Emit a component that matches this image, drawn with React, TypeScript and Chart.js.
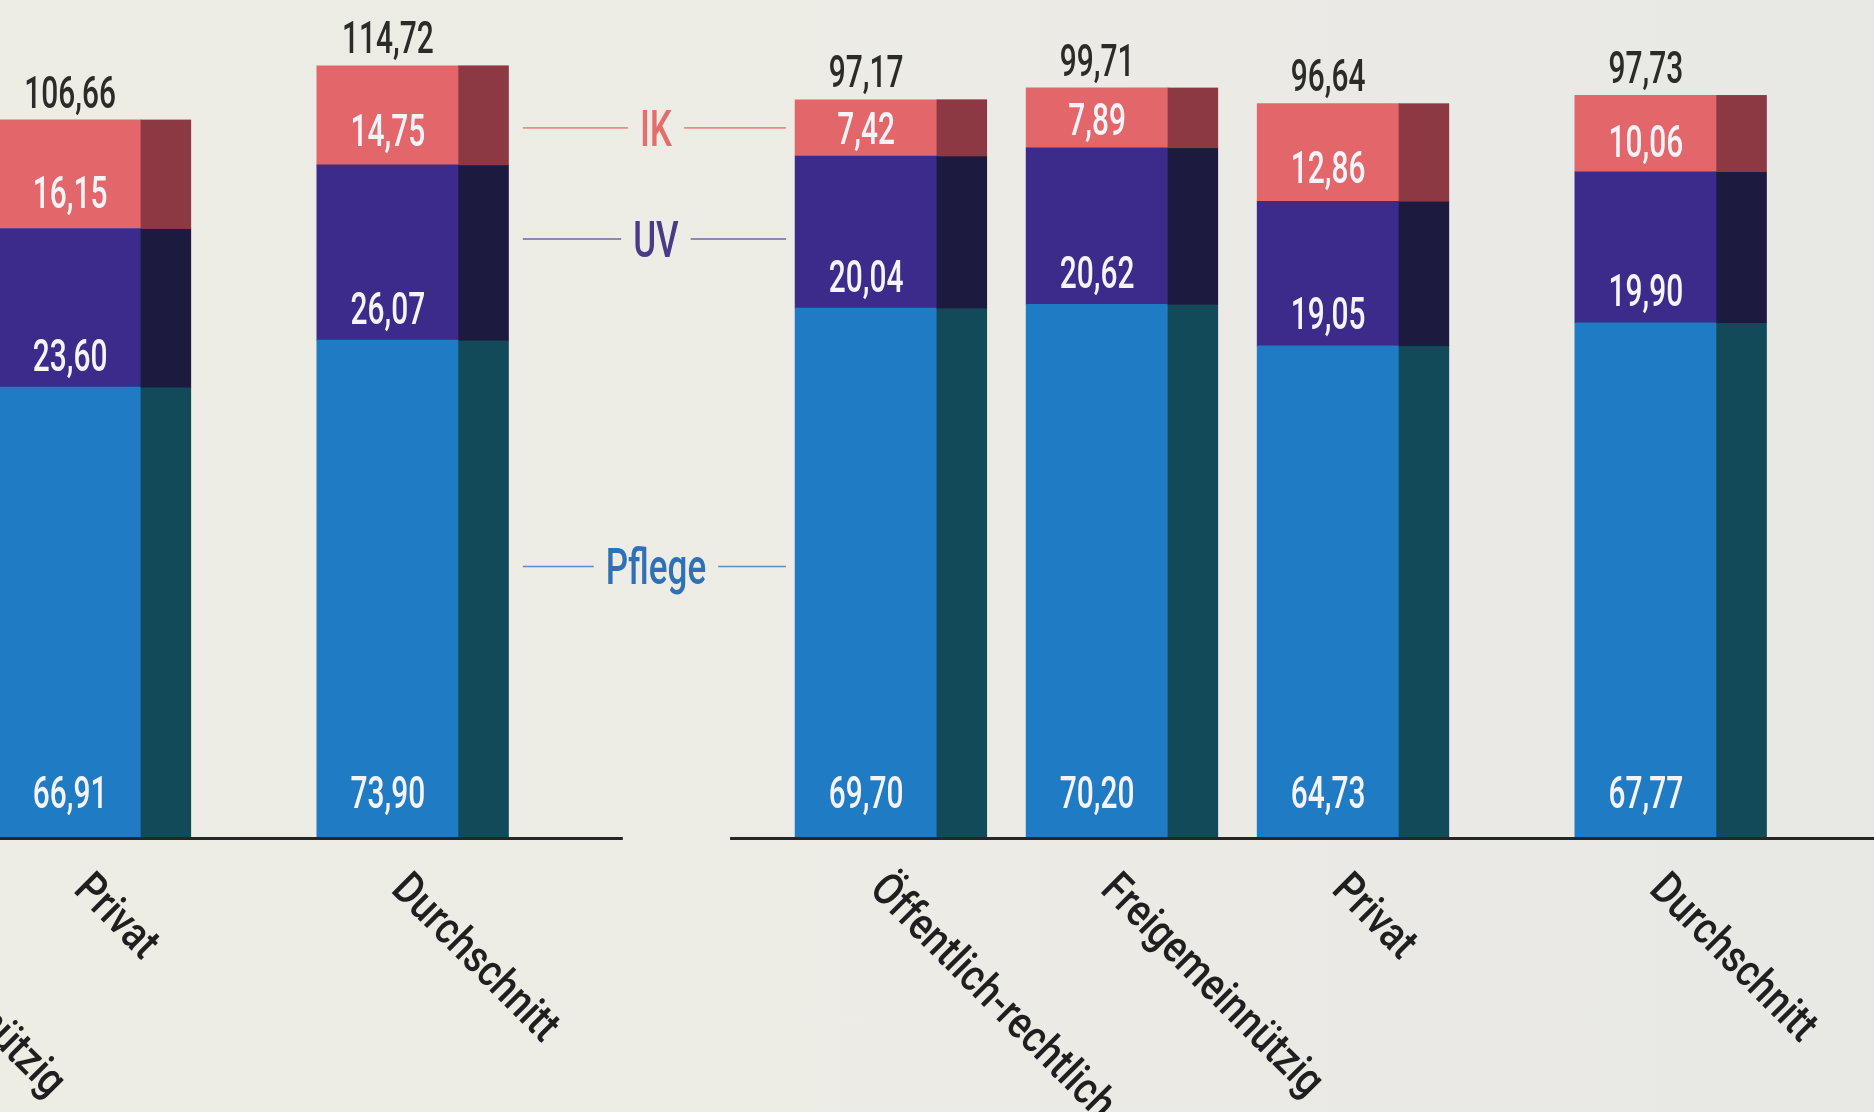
import React, { useEffect, useRef } from 'react';
import { Chart, registerables } from 'chart.js';

Chart.register(...registerables);

// ---------- data ----------
const categories = ['Öffentlich-rechtlich', 'Freigemeinnützig', 'Privat', 'Durchschnitt'];
const seriesNames = ['Pflege', 'UV', 'IK'];

// left panel: only "Privat" and "Durchschnitt" lie inside the picture (others cut off)
const leftPflege: (number | null)[] = [null, null, 66.91, 73.9];
const leftUV: (number | null)[] = [null, null, 23.6, 26.07];
const leftIK: (number | null)[] = [null, null, 16.15, 14.75];
const leftTotal: (number | null)[] = [null, null, 106.66, 114.72];

// right panel
const rightPflege: (number | null)[] = [69.7, 70.2, 64.73, 67.77];
const rightUV: (number | null)[] = [20.04, 20.62, 19.05, 19.9];
const rightIK: (number | null)[] = [7.42, 7.89, 12.86, 10.06];
const rightTotal: (number | null)[] = [97.17, 99.71, 96.64, 97.73];

// ---------- styles / layout ----------
const FRONT = ['#1f7cc4', '#3c2b8b', '#e3676a'];
const SIDE = ['#134a5a', '#1d1a40', '#8c3943'];
const LEGEND_COL = ['#2f70b6', '#4a3a88', '#e26f6c'];
const PAPER = '#ecebe5';
const FONT = "Roboto, 'DejaVu Sans', sans-serif";

const BAR_W = 142;
const SIDE_RATIO = 50 / 142;
const GROUP_SHIFT = 5.445;
const AVG_EXTRA = 0.375;
const CANVAS_W = 2657;
const CANVAS_H = 1112;
const CANVAS_LEFT = -623;
const CAPTION_SHIFT = [-6, 7, 0]; // small vertical nudges of the captions (px)

const pos = (g: number, i: number) =>
  g * GROUP_SHIFT + i + (i === categories.length - 1 ? AVG_EXTRA : 0);

const groups = [
  { axis: 'yL', series: [leftPflege, leftUV, leftIK], totals: leftTotal },
  { axis: 'yR', series: [rightPflege, rightUV, rightIK], totals: rightTotal },
];

const dsInfo: { group: number; series: number }[] = [];
const datasets: any[] = [];
groups.forEach((grp, g) =>
  grp.series.forEach((vals, s) => {
    dsInfo.push({ group: g, series: s });
    datasets.push({
      label: seriesNames[s],
      yAxisID: grp.axis,
      data: vals.map((v, i) => ({ x: pos(g, i), y: v })),
      backgroundColor: FRONT[s],
      borderWidth: 0,
      barThickness: BAR_W,
    });
  })
);

const fmt = (v: number) => v.toFixed(2).replace('.', ',');

function drawText(
  ctx: CanvasRenderingContext2D,
  text: string,
  x: number,
  y: number,
  o: { size: number; color: string; sx: number; align: CanvasTextAlign; rotate?: number; weight?: number }
) {
  ctx.save();
  ctx.translate(x, y);
  if (o.rotate) ctx.rotate(o.rotate);
  ctx.scale(o.sx, 1);
  ctx.font = `${o.weight ?? 500} ${o.size}px ${FONT}`;
  ctx.fillStyle = o.color;
  ctx.textAlign = o.align;
  ctx.textBaseline = 'alphabetic';
  ctx.fillText(text, 0, 0);
  ctx.restore();
}

const decor = {
  id: 'decor',
  afterDatasetsDraw(chart: any) {
    const ctx: CanvasRenderingContext2D = chart.ctx;
    const xs = chart.scales.x;
    const VAL = 44;
    const capV = VAL * 0.711;

    // side faces of the bars
    chart.data.datasets.forEach((ds: any, d: number) => {
      const meta = chart.getDatasetMeta(d);
      const s = dsInfo[d].series;
      meta.data.forEach((el: any, i: number) => {
        if (ds.data[i].y == null) return;
        const { x, y, base, width } = el.getProps(['x', 'y', 'base', 'width'], true);
        ctx.fillStyle = SIDE[s];
        ctx.fillRect(x + width / 2 - 0.5, y - 0.33, width * SIDE_RATIO + 0.5, base - y + 0.66);
      });
    });

    groups.forEach((grp, g) => {
      const ys = chart.scales[grp.axis];
      const zero = ys.getPixelForValue(0);
      // baseline of the group
      const left = xs.getPixelForValue(pos(g, 0)) - BAR_W / 2 - 65;
      const right = xs.getPixelForValue(pos(g, categories.length - 1)) + BAR_W / 2 + BAR_W * SIDE_RATIO + 114;
      ctx.fillStyle = '#262626';
      ctx.fillRect(left, zero, right - left, 3);

      categories.forEach((cat, i) => {
        const cx = xs.getPixelForValue(pos(g, i));
        // category label, rotated
        drawText(ctx, cat, cx + 2, zero + 54, {
          size: 45, color: '#1f1f1f', sx: 0.84, align: 'left', rotate: Math.PI / 4,
        });
        // segment labels
        let top: number | null = null;
        grp.series.forEach((vals, s) => {
          const v = vals[i];
          if (v == null) return;
          const el = chart.getDatasetMeta(g * 3 + s).data[i];
          const { y, base } = el.getProps(['y', 'base'], true);
          const h = base - y;
          let cy: number;
          if (s === 0) cy = base - 45;
          else if (s === 1) cy = base - 32;
          else cy = base - (h / 6 + 18);
          drawText(ctx, fmt(v), cx, cy + capV / 2, { size: VAL, color: '#f6f4f8', sx: 0.68, align: 'center' });
          top = top == null ? y : Math.min(top, y);
        });
        const tot = grp.totals[i];
        if (tot != null && top != null) {
          drawText(ctx, fmt(tot), cx, (top as number) - 28 + capV / 2, {
            size: VAL, color: '#2b2b28', sx: 0.68, align: 'center',
          });
        }
      });
    });

    // series captions between the two panels
    const xL = xs.getPixelForValue(pos(0, categories.length - 1)) + BAR_W / 2 + BAR_W * SIDE_RATIO;
    const xR = xs.getPixelForValue(pos(1, 0)) - BAR_W / 2;
    const ccx = (xL + xR) / 2 + 4;
    const LS = 50;
    seriesNames.forEach((name, s) => {
      const el = chart.getDatasetMeta(3 + s).data[0];
      const { y, base } = el.getProps(['y', 'base'], true);
      const cy = (y + base) / 2 + CAPTION_SHIFT[s];
      ctx.save();
      ctx.font = `500 ${LS}px ${FONT}`;
      const tw = ctx.measureText(name).width * 0.7;
      ctx.restore();
      ctx.save();
      ctx.strokeStyle = LEGEND_COL[s];
      ctx.globalAlpha = 0.75;
      ctx.lineWidth = 1.6;
      ctx.beginPath();
      ctx.moveTo(xL + 14, cy);
      ctx.lineTo(ccx - tw / 2 - 12, cy);
      ctx.moveTo(ccx + tw / 2 + 12, cy);
      ctx.lineTo(xR - 9, cy);
      ctx.stroke();
      ctx.restore();
      drawText(ctx, name, ccx, cy + (LS * 0.711) / 2, { size: LS, color: LEGEND_COL[s], sx: 0.7, align: 'center' });
    });
  },
};

export default function App() {
  const ref = useRef<HTMLCanvasElement>(null);
  useEffect(() => {
    const prev = document.body.style.margin;
    document.body.style.margin = '0';
    const chart = new Chart(ref.current as HTMLCanvasElement, {
      type: 'bar',
      data: { datasets },
      options: {
        animation: false,
        responsive: false,
        maintainAspectRatio: false,
        layout: { padding: { top: 0, bottom: CANVAS_H - 837, left: 0, right: 0 } },
        plugins: { legend: { display: false }, tooltip: { enabled: false } },
        scales: {
          x: { type: 'linear', min: -1, max: 10.5, offset: false, stacked: true, display: false, ticks: { stepSize: 20 } },
          yL: { type: 'linear', position: 'left', min: 0, max: 124.5, stacked: true, display: false },
          yR: { type: 'linear', position: 'right', min: 0, max: 110.3, stacked: true, display: false },
        },
      } as any,
      plugins: [decor],
    });
    return () => {
      chart.destroy();
      document.body.style.margin = prev;
    };
  }, []);

  return (
    <div
      style={{
        position: 'fixed',
        left: 0,
        top: 0,
        width: 1874,
        height: 1112,
        overflow: 'hidden',
        background: `linear-gradient(90deg, #eeede4 0%, ${PAPER} 50%, #e8e8e5 100%)`,
      }}
    >
      <canvas
        ref={ref}
        width={CANVAS_W}
        height={CANVAS_H}
        style={{ position: 'absolute', left: CANVAS_LEFT, top: 0, width: CANVAS_W, height: CANVAS_H }}
      />
    </div>
  );
}
